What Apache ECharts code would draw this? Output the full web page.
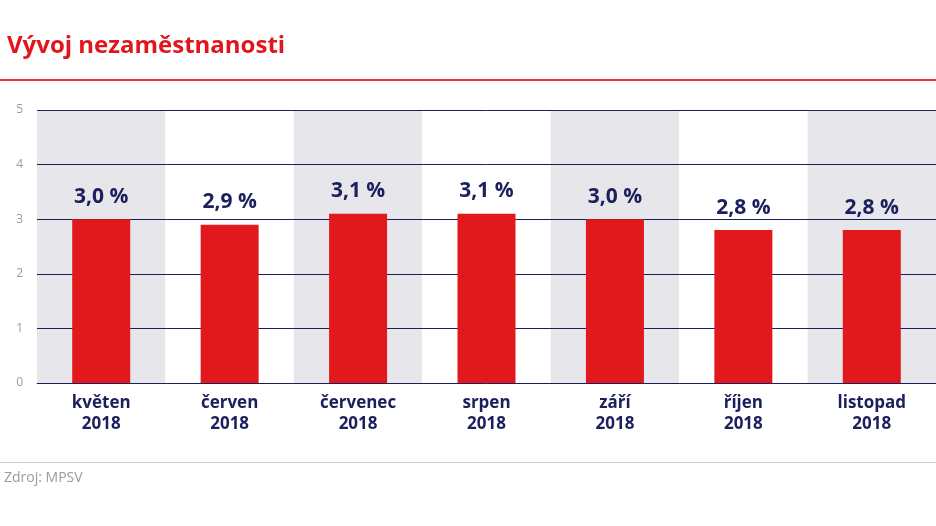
<!DOCTYPE html>
<html><head><meta charset="utf-8">
<script src="https://cdn.jsdelivr.net/npm/echarts@6/dist/echarts.min.js"></script>
<style>body{margin:0;background:#fff}#c{width:936px;height:526px}</style>
</head><body><div id="c"></div>
<script>
const categories = ['květen\n2018','červen\n2018','červenec\n2018','srpen\n2018','září\n2018','říjen\n2018','listopad\n2018'];
const values = [3.0, 2.9, 3.1, 3.1, 3.0, 2.8, 2.8];
const yTicks = [0,1,2,3,4,5];
const navy = '#1b1f5c';
const chart = echarts.init(document.getElementById('c'));
chart.setOption({
  animation:false,
  title:{text:'Vývoj nezaměstnanosti',left:2,top:29,textStyle:{color:'#e1161c',fontSize:24,fontWeight:'bold',fontFamily:'Open Sans'}},
  graphic:[
    {type:'rect',z:10,shape:{x:0,y:79,width:936,height:2},style:{fill:'#e8383d'}},
    {type:'rect',shape:{x:0,y:462,width:936,height:1},style:{fill:'#c8c8d0'}},
    {type:'text',left:4,top:471,style:{text:'Zdroj: MPSV',fill:'#9a9aa6',fontSize:14,fontFamily:'Open Sans'}}
  ],
  grid:{left:37,right:0,top:110,bottom:143},
  xAxis:{type:'category',data:categories,z:0,
    axisLine:{lineStyle:{color:'#9a9aa6'}},axisTick:{show:false},
    splitArea:{show:true,areaStyle:{color:['#e6e6eb','#ffffff']}},
    axisLabel:{color:navy,fontSize:17,fontWeight:'bold',lineHeight:21,margin:10,fontFamily:'Open Sans'}},
  yAxis:{type:'value',min:0,max:5,interval:1,z:1,
    axisLabel:{color:'#9a9aa6',fontSize:12,margin:14,fontFamily:'Open Sans',formatter:v=>yTicks.includes(v)?String(v):''},
    splitLine:{lineStyle:{color:navy,width:1}}},
  series:[{type:'bar',z:2,data:values,barWidth:58,itemStyle:{color:'#e1191c'},
    label:{show:true,position:'top',distance:12,color:navy,fontSize:21,fontWeight:'bold',fontFamily:'Open Sans',
      formatter:p=>p.value.toFixed(1).replace('.',',')+' %'}}]
});
</script></body></html>
